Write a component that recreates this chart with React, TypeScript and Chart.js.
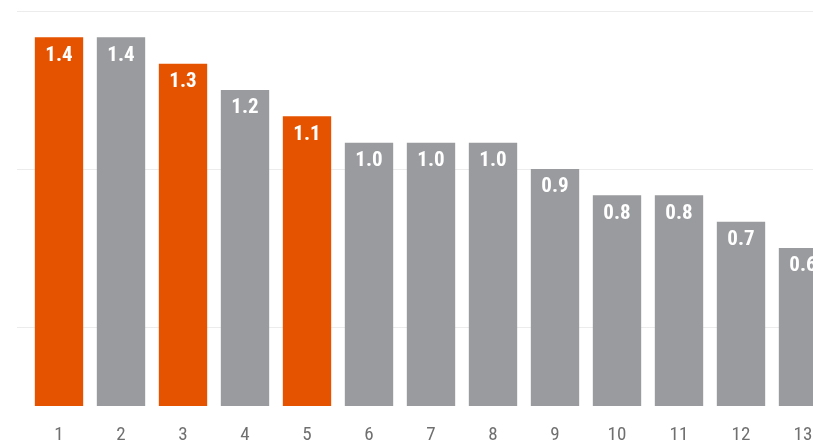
import React, { useEffect, useRef } from "react";
import { Chart, registerables } from "chart.js";

Chart.register(...registerables);

const categories = ["1", "2", "3", "4", "5", "6", "7", "8", "9", "10", "11", "12", "13"];
const values = [1.4, 1.4, 1.3, 1.2, 1.1, 1.0, 1.0, 1.0, 0.9, 0.8, 0.8, 0.7, 0.6];
const highlighted = [true, false, true, false, true, false, false, false, false, false, false, false, false];
const gridTicks = [0.3, 0.9, 1.5];

const ORANGE = "#E65300";
const GRAY = "#9A9B9E";
const FONT = "'Roboto Condensed', 'Liberation Sans Narrow', 'DejaVu Sans Condensed', Roboto, sans-serif";

const valueLabels = {
  id: "valueLabels",
  afterDatasetsDraw(chart: any) {
    const ctx = chart.ctx;
    const meta = chart.getDatasetMeta(0);
    ctx.save();
    ctx.fillStyle = "#ffffff";
    ctx.font = `bold 21px ${FONT}`;
    ctx.textAlign = "center";
    ctx.textBaseline = "middle";
    meta.data.forEach((el: any, i: number) => {
      ctx.fillText(values[i].toFixed(1), el.x, el.y + 18);
    });
    ctx.restore();
  },
};

export default function App() {
  const ref = useRef<HTMLCanvasElement>(null);
  useEffect(() => {
    if (!ref.current) return;
    const chart = new Chart(ref.current, {
      type: "bar",
      data: {
        labels: categories,
        datasets: [
          {
            data: values,
            backgroundColor: highlighted.map((h) => (h ? ORANGE : GRAY)),
            barPercentage: 0.78,
            categoryPercentage: 1,
          },
        ],
      },
      options: {
        responsive: false,
        animation: false,
        layout: { padding: { left: 17, top: 11, right: 0, bottom: 0 } },
        plugins: { legend: { display: false }, tooltip: { enabled: false } },
        scales: {
          x: {
            grid: { display: false },
            border: { display: false },
            afterFit: (scale: any) => {
              scale.height = 36;
            },
            ticks: {
              color: "#6f6f6f",
              padding: 12,
              font: { family: FONT, size: 19, lineHeight: 1 },
            },
          },
          y: {
            min: 0,
            max: 1.5,
            afterBuildTicks: (scale: any) => {
              scale.ticks = gridTicks.map((v) => ({ value: v }));
            },
            border: { display: false },
            grid: { color: "#ececec", lineWidth: 1, tickLength: 11 },
            ticks: { display: false },
          },
        },
      },
      plugins: [valueLabels],
    });
    return () => chart.destroy();
  }, []);
  return (
    <div style={{ position: "fixed", left: 0, top: 0, width: 813, height: 442, overflow: "hidden", background: "#fff" }}>
      <canvas ref={ref} width={834} height={442} style={{ display: "block" }} />
    </div>
  );
}
